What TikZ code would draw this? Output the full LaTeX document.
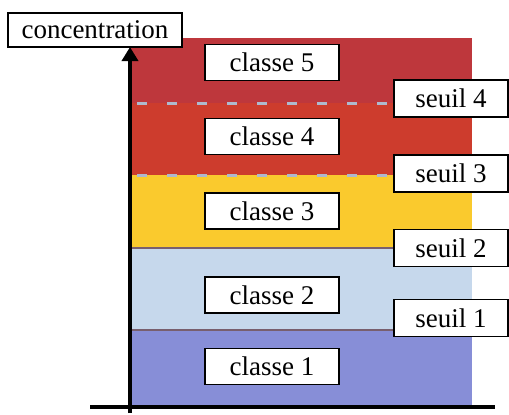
\documentclass[tikz,border=0pt]{standalone}
\usepackage{fontspec}
\setmainfont{Liberation Serif}
\usetikzlibrary{arrows.meta}
\definecolor{cfive}{RGB}{190,55,60}
\definecolor{cfour}{RGB}{205,60,45}
\definecolor{cthree}{RGB}{250,202,45}
\definecolor{ctwo}{RGB}{198,216,236}
\definecolor{cone}{RGB}{135,142,215}
\definecolor{dashc}{RGB}{175,185,205}
\definecolor{edgec}{RGB}{120,95,110}
\begin{document}
\begin{tikzpicture}[x=1pt,y=-1pt,
  lbl/.style={draw=black, fill=white, line width=1.6pt, inner sep=0pt,
    font=\fontsize{27}{30}\selectfont, anchor=center},
  classbox/.style={lbl, minimum width=134pt, minimum height=36pt},
  seuilbox/.style={lbl, minimum width=114pt, minimum height=37pt},
  seuildash/.style={dashc, line width=3pt, dash pattern=on 10pt off 20pt},
  axisline/.style={line width=4pt, black}]
\useasboundingbox (0,0) rectangle (509,415);
% bands
\fill[cfive] (130,38) rectangle (472,103);
\fill[cfour] (130,103) rectangle (472,175);
\fill[cthree] (130,175) rectangle (472,248);
\fill[ctwo] (130,248) rectangle (472,330);
\fill[cone] (130,330) rectangle (472,405);
\draw[edgec, line width=1.2pt] (130,248) -- (472,248);
\draw[edgec, line width=1.2pt] (130,330) -- (472,330);
% dashed thresholds
\draw[seuildash] (137,103) -- (390,103);
\draw[seuildash] (137,175) -- (390,175);
% axes
\coordinate (ybot) at (130,413);
\coordinate (ytop) at (130,47);
\coordinate (xl) at (90,407);
\coordinate (xr) at (495,407);
\draw[axisline] (xl) -- (xr);
\draw[axisline, -{Triangle[length=14pt,width=16pt]}] (ybot) -- (ytop);
% labels
\node[lbl, minimum width=174pt, minimum height=34pt] (conc) at (95,30) {concentration};
\node[classbox] (c5) at (272,62.5) {classe 5};
\node[classbox] (c4) at (272,136.5) {classe 4};
\node[classbox] (c3) at (272,211) {classe 3};
\node[classbox] (c2) at (272,295) {classe 2};
\node[classbox] (c1) at (272,366.5) {classe 1};
\node[seuilbox] (s4) at (451,98.5) {seuil 4};
\node[seuilbox] (s3) at (451,173.5) {seuil 3};
\node[seuilbox] (s2) at (451,248) {seuil 2};
\node[seuilbox] (s1) at (451,318) {seuil 1};
\end{tikzpicture}
\end{document}
